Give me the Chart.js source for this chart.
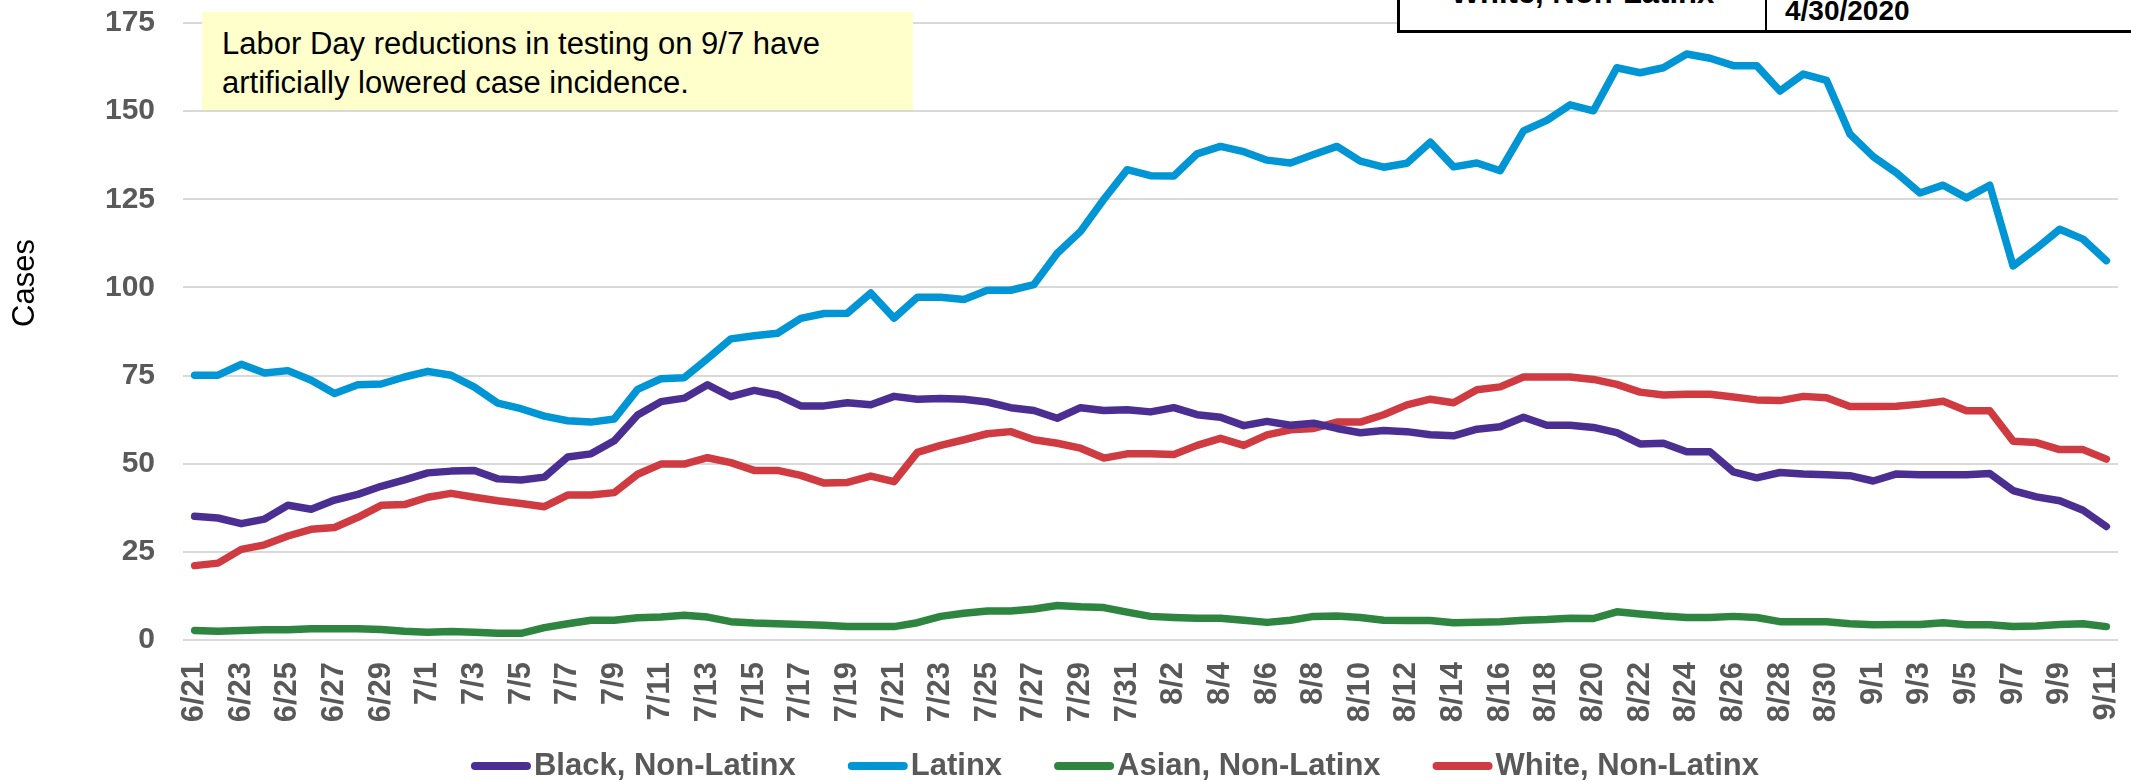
<!DOCTYPE html>
<html>
<head>
<meta charset="utf-8">
<script src="https://cdn.jsdelivr.net/npm/chart.js@4/dist/chart.umd.min.js"></script>
<style>
  html, body { margin: 0; padding: 0; background: #fff; overflow: hidden; }
  #wrap { position: relative; width: 2131px; height: 782px; overflow: hidden; font-family: "Liberation Sans", Arial, sans-serif; }
  #chartCasos { position: absolute; left: 0; top: 0; }
  .nota {
    position: absolute; left: 202px; top: 12px; width: 711px; height: 98px;
    box-sizing: border-box; padding: 12px 0 0 20px;
    background: #ffffcc; color: #000; font-size: 31px; line-height: 39px;
  }
  .tabla {
    position: absolute; left: 1397px; top: -60px; width: 800px; height: 93px;
    box-sizing: border-box; border: 3px solid #000; background: #fff;
  }
  .tabla .div { position: absolute; left: 365px; top: 0; bottom: 0; border-left: 2px solid #000; }
  .tabla .c1 {
    position: absolute; left: 0; width: 365px; top: 34px; text-align: center;
    font-weight: bold; font-size: 31px; line-height: 31px; color: #000;
  }
  .tabla .c2 {
    position: absolute; left: 385px; top: 54px;
    font-weight: bold; font-size: 28px; line-height: 28px; color: #000;
  }
</style>
</head>
<body>
<div id="wrap">
  <canvas id="chartCasos" width="2131" height="782"></canvas>
  <div class="nota">Labor Day reductions in testing on 9/7 have<br>artificially lowered case incidence.</div>
  <div class="tabla">
    <div class="div"></div>
    <div class="c1">White, Non-Latinx</div>
    <div class="c2">4/30/2020</div>
  </div>
</div>
<script>
// ---------- datos ----------
const fechas = [
  '6/21','6/22','6/23','6/24','6/25','6/26','6/27','6/28','6/29','6/30',
  '7/1','7/2','7/3','7/4','7/5','7/6','7/7','7/8','7/9','7/10',
  '7/11','7/12','7/13','7/14','7/15','7/16','7/17','7/18','7/19','7/20',
  '7/21','7/22','7/23','7/24','7/25','7/26','7/27','7/28','7/29','7/30',
  '7/31','8/1','8/2','8/3','8/4','8/5','8/6','8/7','8/8','8/9',
  '8/10','8/11','8/12','8/13','8/14','8/15','8/16','8/17','8/18','8/19',
  '8/20','8/21','8/22','8/23','8/24','8/25','8/26','8/27','8/28','8/29',
  '8/30','8/31','9/1','9/2','9/3','9/4','9/5','9/6','9/7','9/8',
  '9/9','9/10','9/11'
];

const black = [
  35.1, 34.6, 33.0, 34.3, 38.2, 37.1, 39.7, 41.3, 43.6, 45.4,
  47.4, 47.9, 48.1, 45.7, 45.4, 46.2, 51.9, 52.8, 56.5, 63.8,
  67.6, 68.6, 72.4, 69.0, 70.8, 69.5, 66.4, 66.4, 67.3, 66.7,
  69.1, 68.3, 68.5, 68.3, 67.5, 65.9, 65.1, 62.9, 65.9, 65.1,
  65.3, 64.7, 65.9, 63.9, 63.2, 60.8, 62.0, 60.9, 61.5, 60.0,
  58.8, 59.4, 59.1, 58.2, 57.9, 59.8, 60.5, 63.2, 60.9, 60.9,
  60.3, 58.8, 55.6, 55.8, 53.4, 53.4, 47.7, 46.0, 47.5, 47.1,
  46.9, 46.6, 45.1, 47.1, 46.9, 46.9, 46.9, 47.2, 42.4, 40.6,
  39.5, 36.8, 32.2
];

const latinx = [
  75.1, 75.1, 78.2, 75.7, 76.4, 73.7, 69.9, 72.4, 72.6, 74.6,
  76.2, 75.1, 71.7, 67.2, 65.6, 63.5, 62.2, 61.8, 62.7, 71.1,
  74.1, 74.4, 79.8, 85.4, 86.3, 87.0, 91.2, 92.6, 92.7, 98.4,
  91.3, 97.2, 97.2, 96.6, 99.2, 99.2, 100.8, 109.7, 115.9, 125.0,
  133.4, 131.7, 131.6, 137.9, 140.0, 138.5, 136.1, 135.3, 137.7, 140.0,
  135.8, 134.1, 135.2, 141.2, 134.2, 135.3, 133.1, 144.4, 147.4, 151.8,
  150.1, 162.3, 160.9, 162.3, 166.2, 165.0, 162.9, 162.9, 155.7, 160.5,
  158.7, 143.5, 137.1, 132.5, 126.8, 129.0, 125.4, 129.0, 106.1, 111.1,
  116.5, 113.7, 107.6
];

const asian = [
  2.7, 2.5, 2.7, 2.9, 2.9, 3.2, 3.2, 3.2, 3.0, 2.5,
  2.2, 2.4, 2.2, 1.9, 1.9, 3.5, 4.6, 5.6, 5.6, 6.3,
  6.5, 7.0, 6.5, 5.2, 4.8, 4.6, 4.4, 4.2, 3.8, 3.8,
  3.8, 4.9, 6.7, 7.6, 8.2, 8.2, 8.8, 9.8, 9.4, 9.2,
  7.9, 6.7, 6.4, 6.2, 6.2, 5.6, 5.0, 5.6, 6.7, 6.8,
  6.4, 5.6, 5.5, 5.5, 4.9, 5.0, 5.2, 5.6, 5.8, 6.2,
  6.1, 8.0, 7.4, 6.8, 6.4, 6.4, 6.7, 6.4, 5.2, 5.2,
  5.2, 4.6, 4.3, 4.4, 4.4, 4.9, 4.3, 4.3, 3.8, 4.0,
  4.4, 4.6, 3.8
];

const white = [
  21.1, 21.8, 25.7, 27.0, 29.5, 31.4, 31.9, 34.8, 38.2, 38.4,
  40.5, 41.6, 40.5, 39.5, 38.7, 37.8, 41.1, 41.1, 41.8, 47.0,
  49.9, 49.9, 51.7, 50.3, 48.1, 48.1, 46.7, 44.5, 44.7, 46.5,
  44.9, 53.2, 55.2, 56.8, 58.5, 59.1, 56.8, 55.8, 54.4, 51.6,
  52.8, 52.8, 52.6, 55.2, 57.2, 55.2, 58.2, 59.6, 60.0, 61.8,
  61.8, 63.9, 66.7, 68.3, 67.3, 71.0, 71.8, 74.6, 74.6, 74.6,
  73.9, 72.5, 70.3, 69.5, 69.7, 69.7, 68.9, 68.1, 67.9, 69.1,
  68.7, 66.2, 66.2, 66.3, 66.9, 67.7, 65.0, 65.0, 56.4, 56.0,
  54.0, 54.0, 51.3
];

const FONT = '"Liberation Sans", Arial, sans-serif';
const GRIS = '#595959';

function serie(label, data, color) {
  return {
    label, data,
    borderColor: color, backgroundColor: color,
    borderWidth: 7.5, pointRadius: 0, tension: 0,
    borderJoinStyle: 'round', borderCapStyle: 'round'
  };
}

// leyenda abajo + titulo "Cases" (dibujados a mano)
const extras = {
  id: 'extras',
  afterDraw(chart) {
    const ctx = chart.ctx;
    ctx.save();

    ctx.font = `31px ${FONT}`;
    ctx.fillStyle = '#000';
    ctx.textAlign = 'center';
    ctx.textBaseline = 'middle';
    ctx.translate(25, 283);
    ctx.rotate(-Math.PI / 2);
    ctx.fillText('Cases', 0, 0);
    ctx.setTransform(1, 0, 0, 1, 0, 0);

    ctx.font = `bold 31px ${FONT}`;
    ctx.textAlign = 'left';
    const marca = 60, hueco = 3, entre = 52, y = 766;
    const ds = chart.data.datasets;
    let total = 0;
    ds.forEach((d, i) => {
      total += marca + hueco + ctx.measureText(d.label).width + (i < ds.length - 1 ? entre : 0);
    });
    let x = 1115 - total / 2;
    ds.forEach(d => {
      ctx.strokeStyle = d.borderColor;
      ctx.lineWidth = 8;
      ctx.lineCap = 'round';
      ctx.beginPath();
      ctx.moveTo(x + 4, y);
      ctx.lineTo(x + marca - 4, y);
      ctx.stroke();
      ctx.fillStyle = GRIS;
      ctx.fillText(d.label, x + marca + hueco, y);
      x += marca + hueco + ctx.measureText(d.label).width + entre;
    });
    ctx.restore();
  }
};

new Chart(document.getElementById('chartCasos'), {
  type: 'line',
  data: {
    labels: fechas,
    datasets: [
      serie('Black, Non-Latinx', black, '#4b2e92'),
      serie('Latinx', latinx, '#0095d5'),
      serie('Asian, Non-Latinx', asian, '#2e8540'),
      serie('White, Non-Latinx', white, '#d03a41')
    ]
  },
  options: {
    responsive: false,
    animation: false,
    layout: { padding: { top: 23, right: 13, left: 0, bottom: 0 } },
    plugins: {
      legend: { display: false },
      tooltip: { enabled: false }
    },
    scales: {
      x: {
        offset: true,
        grid: { display: false, drawTicks: false },
        border: { display: false },
        ticks: {
          autoSkip: false,
          minRotation: 90,
          maxRotation: 90,
          padding: 22,
          color: GRIS,
          font: { family: FONT, size: 31, weight: 'bold' },
          callback: (v, i) => (i % 2 === 0 ? fechas[i] : '')
        },
        afterFit: (s) => { s.height = 142; s.paddingLeft = 0; s.paddingRight = 0; }
      },
      y: {
        min: 0,
        max: 175,
        grid: { color: '#d9d9d9', lineWidth: 2, drawTicks: false },
        border: { display: false },
        ticks: {
          stepSize: 25,
          padding: 28,
          color: GRIS,
          font: { family: FONT, size: 30, weight: 'bold' }
        },
        afterFit: (s) => { s.width = 183; s.paddingTop = 0; s.paddingBottom = 0; }
      }
    }
  },
  plugins: [extras]
});
</script>
</body>
</html>
